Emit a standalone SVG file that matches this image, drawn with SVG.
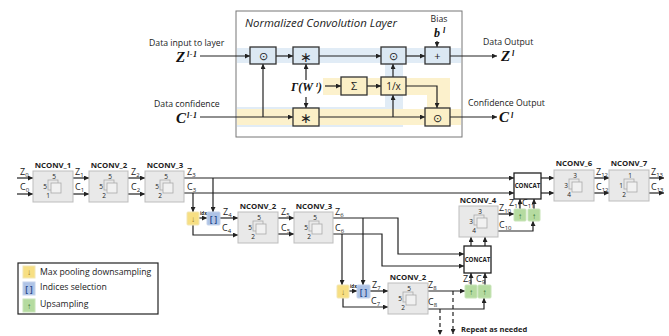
<svg xmlns="http://www.w3.org/2000/svg" width="669" height="336" viewBox="0 0 669 336">
<style>
text{font-family:"Open Sans","Noto Sans",sans-serif;fill:#222}
.s{font-size:8.7px}
.math{font-family:"Liberation Serif",serif;font-weight:bold;font-style:italic;font-size:15px;fill:#111}
.sup{font-family:"Liberation Serif",serif;font-weight:bold;font-style:italic;font-size:8px;fill:#111}
.op{fill:#dbe8f3;stroke:#333;stroke-width:1.3}
.oy{fill:#fbefc6;stroke:#333;stroke-width:1.3}
.ot{font-size:11px;text-anchor:middle}
.n{fill:#e9e9e9;stroke:#bdbdbd;stroke-width:1}
.nt{font-size:7.8px;font-weight:bold;text-anchor:middle}
.d{font-size:6.5px;text-anchor:middle}
.l{font-size:9px}
.u{font-size:6px}
.a{fill:none;stroke:#222;stroke-width:1.2;marker-end:url(#ah)}
.da{fill:none;stroke:#222;stroke-width:1.2;stroke-dasharray:4 3;marker-end:url(#ah)}
.cc{fill:#fff;stroke:#222;stroke-width:1.3}
.cct{font-size:6.2px;font-weight:bold;text-anchor:middle}
.ys{fill:#f7df83;stroke:#f2e6b4}
.bs{fill:#aec3e6;stroke:#c3d2ea}
.gs{fill:#b5dba0;stroke:#c8e4b8}
.g{font-size:8px;text-anchor:middle;font-weight:bold}
.lg{font-size:8.7px}
</style>
<defs>
<marker id="ah" markerUnits="userSpaceOnUse" markerWidth="5" markerHeight="5" refX="5" refY="2.5" orient="auto"><path d="M0 0L5 2.5L0 5z" fill="#222"/></marker>
<g id="cube" fill="none" stroke="#aaa" stroke-width="0.8"><rect x="15" y="9" width="10" height="10"/><rect x="18" y="12" width="10" height="10" fill="#f1f1f1"/></g>
</defs>

<g id="frame">
<rect x="236" y="11" width="226" height="126" fill="#fff" stroke="#777" stroke-width="1"/>
<path d="M237 48H461V63H237z" fill="#e1ecf6"/>
<path d="M385 48H403V127H385z" fill="#e1ecf6"/>
<path d="M237 107H403V127H237z" fill="#e1ecf6"/>
<path d="M323 78H450V108H427V95H323z" fill="#fcf1cc"/>
<path d="M237 109H461V125H237z" fill="#fcf1cc"/>
<text x="245" y="27" font-size="11.5" font-style="italic" textLength="152" lengthAdjust="spacingAndGlyphs">Normalized Convolution Layer</text>
</g>

<g id="connectors">
<path class="a" d="M200 56H250"/>
<path class="a" d="M200 117H293"/>
<path class="a" d="M263 117V64"/>
<path class="a" d="M276 56H293"/>
<path class="a" d="M319 56H381"/>
<path class="a" d="M406 56H425"/>
<path class="a" d="M450 56H497"/>
<path class="a" d="M319 117H425"/>
<path class="a" d="M450 117H497"/>
<path class="a" d="M393 117V95"/>
<path class="a" d="M393 77V64"/>
<path class="a" d="M367 86H381"/>
<path class="a" d="M406 86H437V108"/>
<path class="a" d="M325 86H341"/>
<path class="a" d="M306 80V64"/>
<path class="a" d="M306 97V108"/>
<path class="a" d="M437 41V47"/>

<path class="a" d="M17 178H33"/><path class="a" d="M17 194H33"/>
<path class="a" d="M73 178H89"/><path class="a" d="M73 194H89"/>
<path class="a" d="M128 178H145"/><path class="a" d="M128 194H145"/>
<path class="a" d="M184 178H514"/><path class="a" d="M184 193H514"/>
<path class="a" d="M213 178V212"/><path class="a" d="M193 193V212"/>
<path class="a" d="M199 218H207"/>
<path class="a" d="M220 218H238"/>
<path class="a" d="M193 225V235H238"/>
<path class="a" d="M278 218H294"/><path class="a" d="M278 234H294"/>
<path class="a" d="M333 218H398V254H464"/>
<path class="a" d="M333 234H382V266H464"/>
<path class="a" d="M363 218V285"/><path class="a" d="M342 234V285"/>
<path class="a" d="M349 291H357"/>
<path class="a" d="M370 291H388"/>
<path class="a" d="M343 298V307H388"/>
<path class="a" d="M428 291H465"/>
<path class="a" d="M428 309H484V298"/>
<path class="da" d="M453 291V334"/><path class="da" d="M440 309V335"/>
<path class="a" d="M471 285V273"/><path class="a" d="M485 285V273"/>
<path class="a" d="M471 246V237"/><path class="a" d="M485 246V237"/>
<path class="a" d="M498 214H514"/>
<path class="a" d="M498 231H533V221"/>
<path class="a" d="M520 209V199"/><path class="a" d="M534 209V199"/>
<path class="a" d="M541 178H554"/><path class="a" d="M541 193H554"/>
<path class="a" d="M594 178H609"/><path class="a" d="M594 193H609"/>
<path class="a" d="M649 178H664"/><path class="a" d="M649 193H664"/>
</g>

<g id="label-z-in"><text class="s" x="149" y="46">Data input to layer</text><text class="math" x="176" y="62">Z</text><text class="sup" x="187" y="57" letter-spacing="0.6">l-1</text></g>
<g id="label-c-in"><text class="s" x="154" y="107">Data confidence</text><text class="math" x="176" y="123">C</text><text class="sup" x="187" y="118" letter-spacing="0.6">l-1</text></g>
<g id="op-hadamard1"><rect class="op" x="250" y="47" width="26" height="17"/><text class="ot" x="263" y="60">⊙</text></g>
<g id="op-conv1"><rect class="op" x="293" y="47" width="26" height="17"/><text class="ot" x="306" y="62" style="font-size:14px">∗</text></g>
<g id="op-conv2"><rect class="oy" x="293" y="108" width="26" height="18"/><text class="ot" x="306" y="123" style="font-size:14px">∗</text></g>
<g id="label-gamma"><text class="math" x="291" y="91" style="font-size:12px">Γ(W</text><text class="sup" x="316" y="87" style="font-size:7px">l</text><text class="math" x="318" y="91" style="font-size:12px">)</text></g>
<g id="op-sum"><rect class="oy" x="341" y="77" width="26" height="18"/><text class="ot" x="354" y="90">Σ</text></g>
<g id="op-inv"><rect class="oy" x="381" y="77" width="25" height="18"/><text class="ot" x="393.500" y="90" style="font-size:10px">1/x</text></g>
<g id="op-hadamard2"><rect class="op" x="381" y="47" width="25" height="17"/><text class="ot" x="393.500" y="60">⊙</text></g>
<g id="op-plus"><rect class="op" x="425" y="47" width="25" height="17"/><text class="ot" x="437.500" y="60">+</text></g>
<g id="op-hadamard3"><rect class="oy" x="425" y="108" width="25" height="18"/><text class="ot" x="437.500" y="122">⊙</text></g>
<g id="label-bias"><text class="s" x="439" y="22" text-anchor="middle">Bias</text><text class="math" x="434" y="37" style="font-size:12px">b</text><text class="sup" x="443" y="33">l</text></g>
<g id="label-z-out"><text class="s" x="483" y="45">Data Output</text><text class="math" x="501" y="61">Z</text><text class="sup" x="512" y="56">l</text></g>
<g id="label-c-out"><text class="s" x="468" y="106">Confidence Output</text><text class="math" x="499" y="122">C</text><text class="sup" x="511" y="118">l</text></g>

<g id="nconv1a"><text class="nt" x="53" y="168">NCONV_1</text><rect class="n" x="33" y="171" width="40" height="31"/><use href="#cube" x="33" y="171"/><text class="d" x="54" y="179">5</text><text class="d" x="45" y="189">5</text><text class="d" x="48" y="198">1</text></g>
<g id="nconv2a"><text class="nt" x="109" y="168">NCONV_2</text><rect class="n" x="89" y="171" width="39" height="31"/><use href="#cube" x="89" y="171"/><text class="d" x="110" y="179">5</text><text class="d" x="101" y="189">5</text><text class="d" x="104" y="198">2</text></g>
<g id="nconv3a"><text class="nt" x="165" y="168">NCONV_3</text><rect class="n" x="145" y="171" width="39" height="31"/><use href="#cube" x="145" y="171"/><text class="d" x="166" y="179">5</text><text class="d" x="157" y="189">5</text><text class="d" x="160" y="198">2</text></g>
<g id="nconv2b"><text class="nt" x="258" y="209">NCONV_2</text><rect class="n" x="238" y="212" width="40" height="31"/><use href="#cube" x="238" y="212"/><text class="d" x="259" y="220">5</text><text class="d" x="250" y="230">5</text><text class="d" x="253" y="239">2</text></g>
<g id="nconv3b"><text class="nt" x="314" y="209">NCONV_3</text><rect class="n" x="294" y="212" width="39" height="31"/><use href="#cube" x="294" y="212"/><text class="d" x="315" y="220">5</text><text class="d" x="306" y="230">5</text><text class="d" x="309" y="239">2</text></g>
<g id="nconv4"><text class="nt" x="478" y="203">NCONV_4</text><rect class="n" x="459" y="206" width="39" height="31"/><use href="#cube" x="459" y="206"/><text class="d" x="480" y="214">3</text><text class="d" x="471" y="224">3</text><text class="d" x="474" y="233">4</text></g>
<g id="nconv6"><text class="nt" x="574" y="166">NCONV_6</text><rect class="n" x="554" y="170" width="40" height="31"/><use href="#cube" x="554" y="170"/><text class="d" x="575" y="178">3</text><text class="d" x="566" y="188">3</text><text class="d" x="569" y="197">4</text></g>
<g id="nconv7"><text class="nt" x="629" y="166">NCONV_7</text><rect class="n" x="609" y="170" width="40" height="31"/><use href="#cube" x="609" y="170"/><text class="d" x="630" y="178">1</text><text class="d" x="621" y="188">1</text><text class="d" x="624" y="197">2</text></g>
<g id="nconv2c"><text class="nt" x="408" y="280">NCONV_2</text><rect class="n" x="388" y="283" width="40" height="31"/><use href="#cube" x="388" y="283"/><text class="d" x="409" y="291">5</text><text class="d" x="400" y="301">5</text><text class="d" x="403" y="310">2</text></g>

<g id="concat1"><rect class="cc" x="514" y="173" width="27" height="26"/><text class="cct" x="527.500" y="188">CONCAT</text></g>
<g id="concat2"><rect class="cc" x="464" y="246" width="27" height="27"/><text class="cct" x="477.500" y="262">CONCAT</text></g>

<g id="pool1"><rect class="ys" x="187" y="212" width="12" height="13" rx="1"/><text class="g" x="193" y="222" style="fill:#8a6d1a">↓</text></g>
<g id="idx1"><rect class="bs" x="207" y="212" width="13" height="13" rx="1"/><text class="g" x="213.500" y="222" style="fill:#2f4f8f">[ ]</text></g>
<g id="pool2"><rect class="ys" x="337" y="285" width="12" height="13" rx="1"/><text class="g" x="343" y="295" style="fill:#8a6d1a">↓</text></g>
<g id="idx2"><rect class="bs" x="357" y="285" width="13" height="13" rx="1"/><text class="g" x="363.500" y="295" style="fill:#2f4f8f">[ ]</text></g>
<g id="up1"><rect class="gs" x="514" y="209" width="12" height="12" rx="1"/><text class="g" x="520" y="219" style="fill:#2e6b2e">↑</text></g>
<g id="up2"><rect class="gs" x="528" y="209" width="12" height="12" rx="1"/><text class="g" x="534" y="219" style="fill:#2e6b2e">↑</text></g>
<g id="up3"><rect class="gs" x="465" y="285" width="12" height="13" rx="1"/><text class="g" x="471" y="295" style="fill:#2e6b2e">↑</text></g>
<g id="up4"><rect class="gs" x="478" y="285" width="13" height="13" rx="1"/><text class="g" x="484.500" y="295" style="fill:#2e6b2e">↑</text></g>

<g id="edge-labels">
<text class="l" x="20" y="175">Z<tspan class="u" dy="1.500">0</tspan></text><text class="l" x="20" y="190">C<tspan class="u" dy="1.500">0</tspan></text>
<text class="l" x="75" y="175">Z<tspan class="u" dy="1.500">1</tspan></text><text class="l" x="75" y="190">C<tspan class="u" dy="1.500">1</tspan></text>
<text class="l" x="131" y="175">Z<tspan class="u" dy="1.500">2</tspan></text><text class="l" x="131" y="190">C<tspan class="u" dy="1.500">2</tspan></text>
<text class="l" x="187" y="175">Z<tspan class="u" dy="1.500">3</tspan></text><text class="l" x="187" y="190">C<tspan class="u" dy="1.500">3</tspan></text>
<text x="200" y="215" font-size="4.500" font-weight="bold">idx</text>
<text class="l" x="223" y="215">Z<tspan class="u" dy="1.500">4</tspan></text><text class="l" x="222" y="231">C<tspan class="u" dy="1.500">4</tspan></text>
<text class="l" x="281" y="215">Z<tspan class="u" dy="1.500">5</tspan></text><text class="l" x="281" y="231">C<tspan class="u" dy="1.500">5</tspan></text>
<text class="l" x="335" y="215">Z<tspan class="u" dy="1.500">6</tspan></text><text class="l" x="335" y="231">C<tspan class="u" dy="1.500">6</tspan></text>
<text x="350" y="288" font-size="4.500" font-weight="bold">idx</text>
<text class="l" x="372" y="288">Z<tspan class="u" dy="1.500">7</tspan></text><text class="l" x="371" y="304">C<tspan class="u" dy="1.500">7</tspan></text>
<text class="l" x="428" y="288">Z<tspan class="u" dy="1.500">8</tspan></text><text class="l" x="428" y="305">C<tspan class="u" dy="1.500">8</tspan></text>
<text class="l" x="463" y="282">Z<tspan class="u" dy="1.500">9</tspan></text><text class="l" x="476" y="282">C<tspan class="u" dy="1.500">9</tspan></text>
<text class="l" x="499" y="211">Z<tspan class="u" dy="1.500">10</tspan></text><text class="l" x="499" y="228">C<tspan class="u" dy="1.500">10</tspan></text>
<text class="l" x="509" y="206">Z<tspan class="u" dy="1.500">11</tspan></text><text class="l" x="522" y="206">C<tspan class="u" dy="1.500">11</tspan></text>
<text class="l" x="596" y="175">Z<tspan class="u" dy="1.500">12</tspan></text><text class="l" x="596" y="190">C<tspan class="u" dy="1.500">12</tspan></text>
<text class="l" x="651" y="175">Z<tspan class="u" dy="1.500">13</tspan></text><text class="l" x="651" y="190">C<tspan class="u" dy="1.500">13</tspan></text>
<text x="461" y="332" font-size="7.500" font-weight="bold">Repeat as needed</text>
</g>

<g id="legend">
<rect x="18" y="263" width="140" height="51" fill="#fff" stroke="#222" stroke-width="1.200"/>
<rect class="ys" x="23" y="266" width="12" height="12"/><text class="g" x="29" y="275" style="fill:#8a6d1a">↓</text><text class="lg" x="40" y="275">Max pooling downsampling</text>
<rect class="bs" x="23" y="282" width="12" height="13"/><text class="g" x="29" y="292" style="fill:#2f4f8f">[ ]</text><text class="lg" x="40" y="290">Indices selection</text>
<rect class="gs" x="23" y="299" width="12" height="13"/><text class="g" x="29" y="309" style="fill:#2e6b2e">↑</text><text class="lg" x="40" y="307">Upsampling</text>
</g>
</svg>
